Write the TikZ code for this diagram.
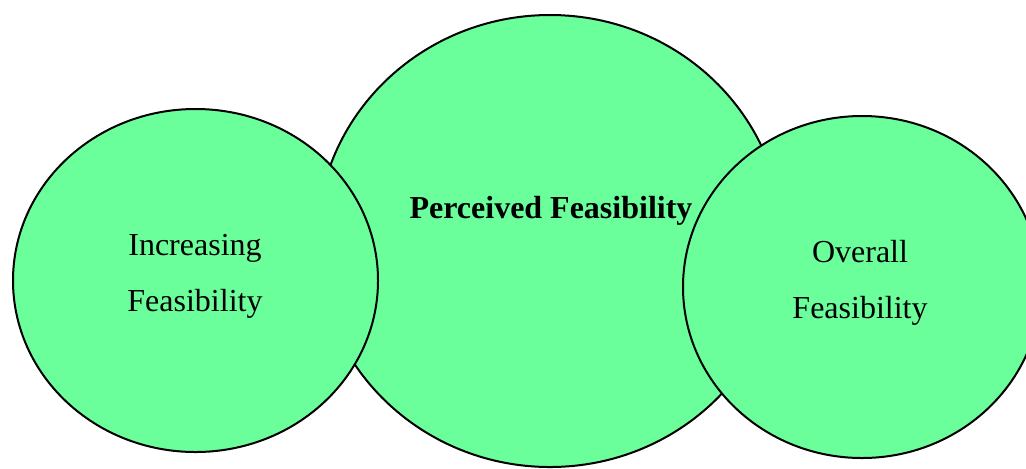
\documentclass[tikz,border=0pt]{standalone}
\usepackage{fontspec}
\setmainfont{Liberation Serif}
\usetikzlibrary{shapes.geometric}
\definecolor{blobgreen}{RGB}{106,255,155}
\def\blob{\node[ellipse,draw,fill=blobgreen,line width=1pt,inner sep=0pt]}

\begin{document}
\begin{tikzpicture}[x=0.5pt,y=-0.5pt,
    lbl/.style={inner sep=0pt,align=center,font=\fontsize{16}{28}\selectfont}]
  \useasboundingbox (0,0) rectangle (1026,468);
  \clip (0,0) rectangle (1026,468);
  \blob[minimum width=233pt,minimum height=226pt] (perceived) at (550,241) {};
  \blob[minimum width=182.5pt,minimum height=171.5pt] (increasing) at (195.5,280.5) {};
  \blob[minimum width=179pt,minimum height=171pt] (overall) at (862,287) {};
  \node[lbl] (inctext) at (195,276) {Increasing\\Feasibility};
  \node[lbl] (overtext) at (860,283) {Overall\\Feasibility};
  \node[lbl,anchor=base,font=\fontsize{16}{28}\selectfont\bfseries] (pertext) at (551,218) {Perceived Feasibility};
\end{tikzpicture}
\end{document}
